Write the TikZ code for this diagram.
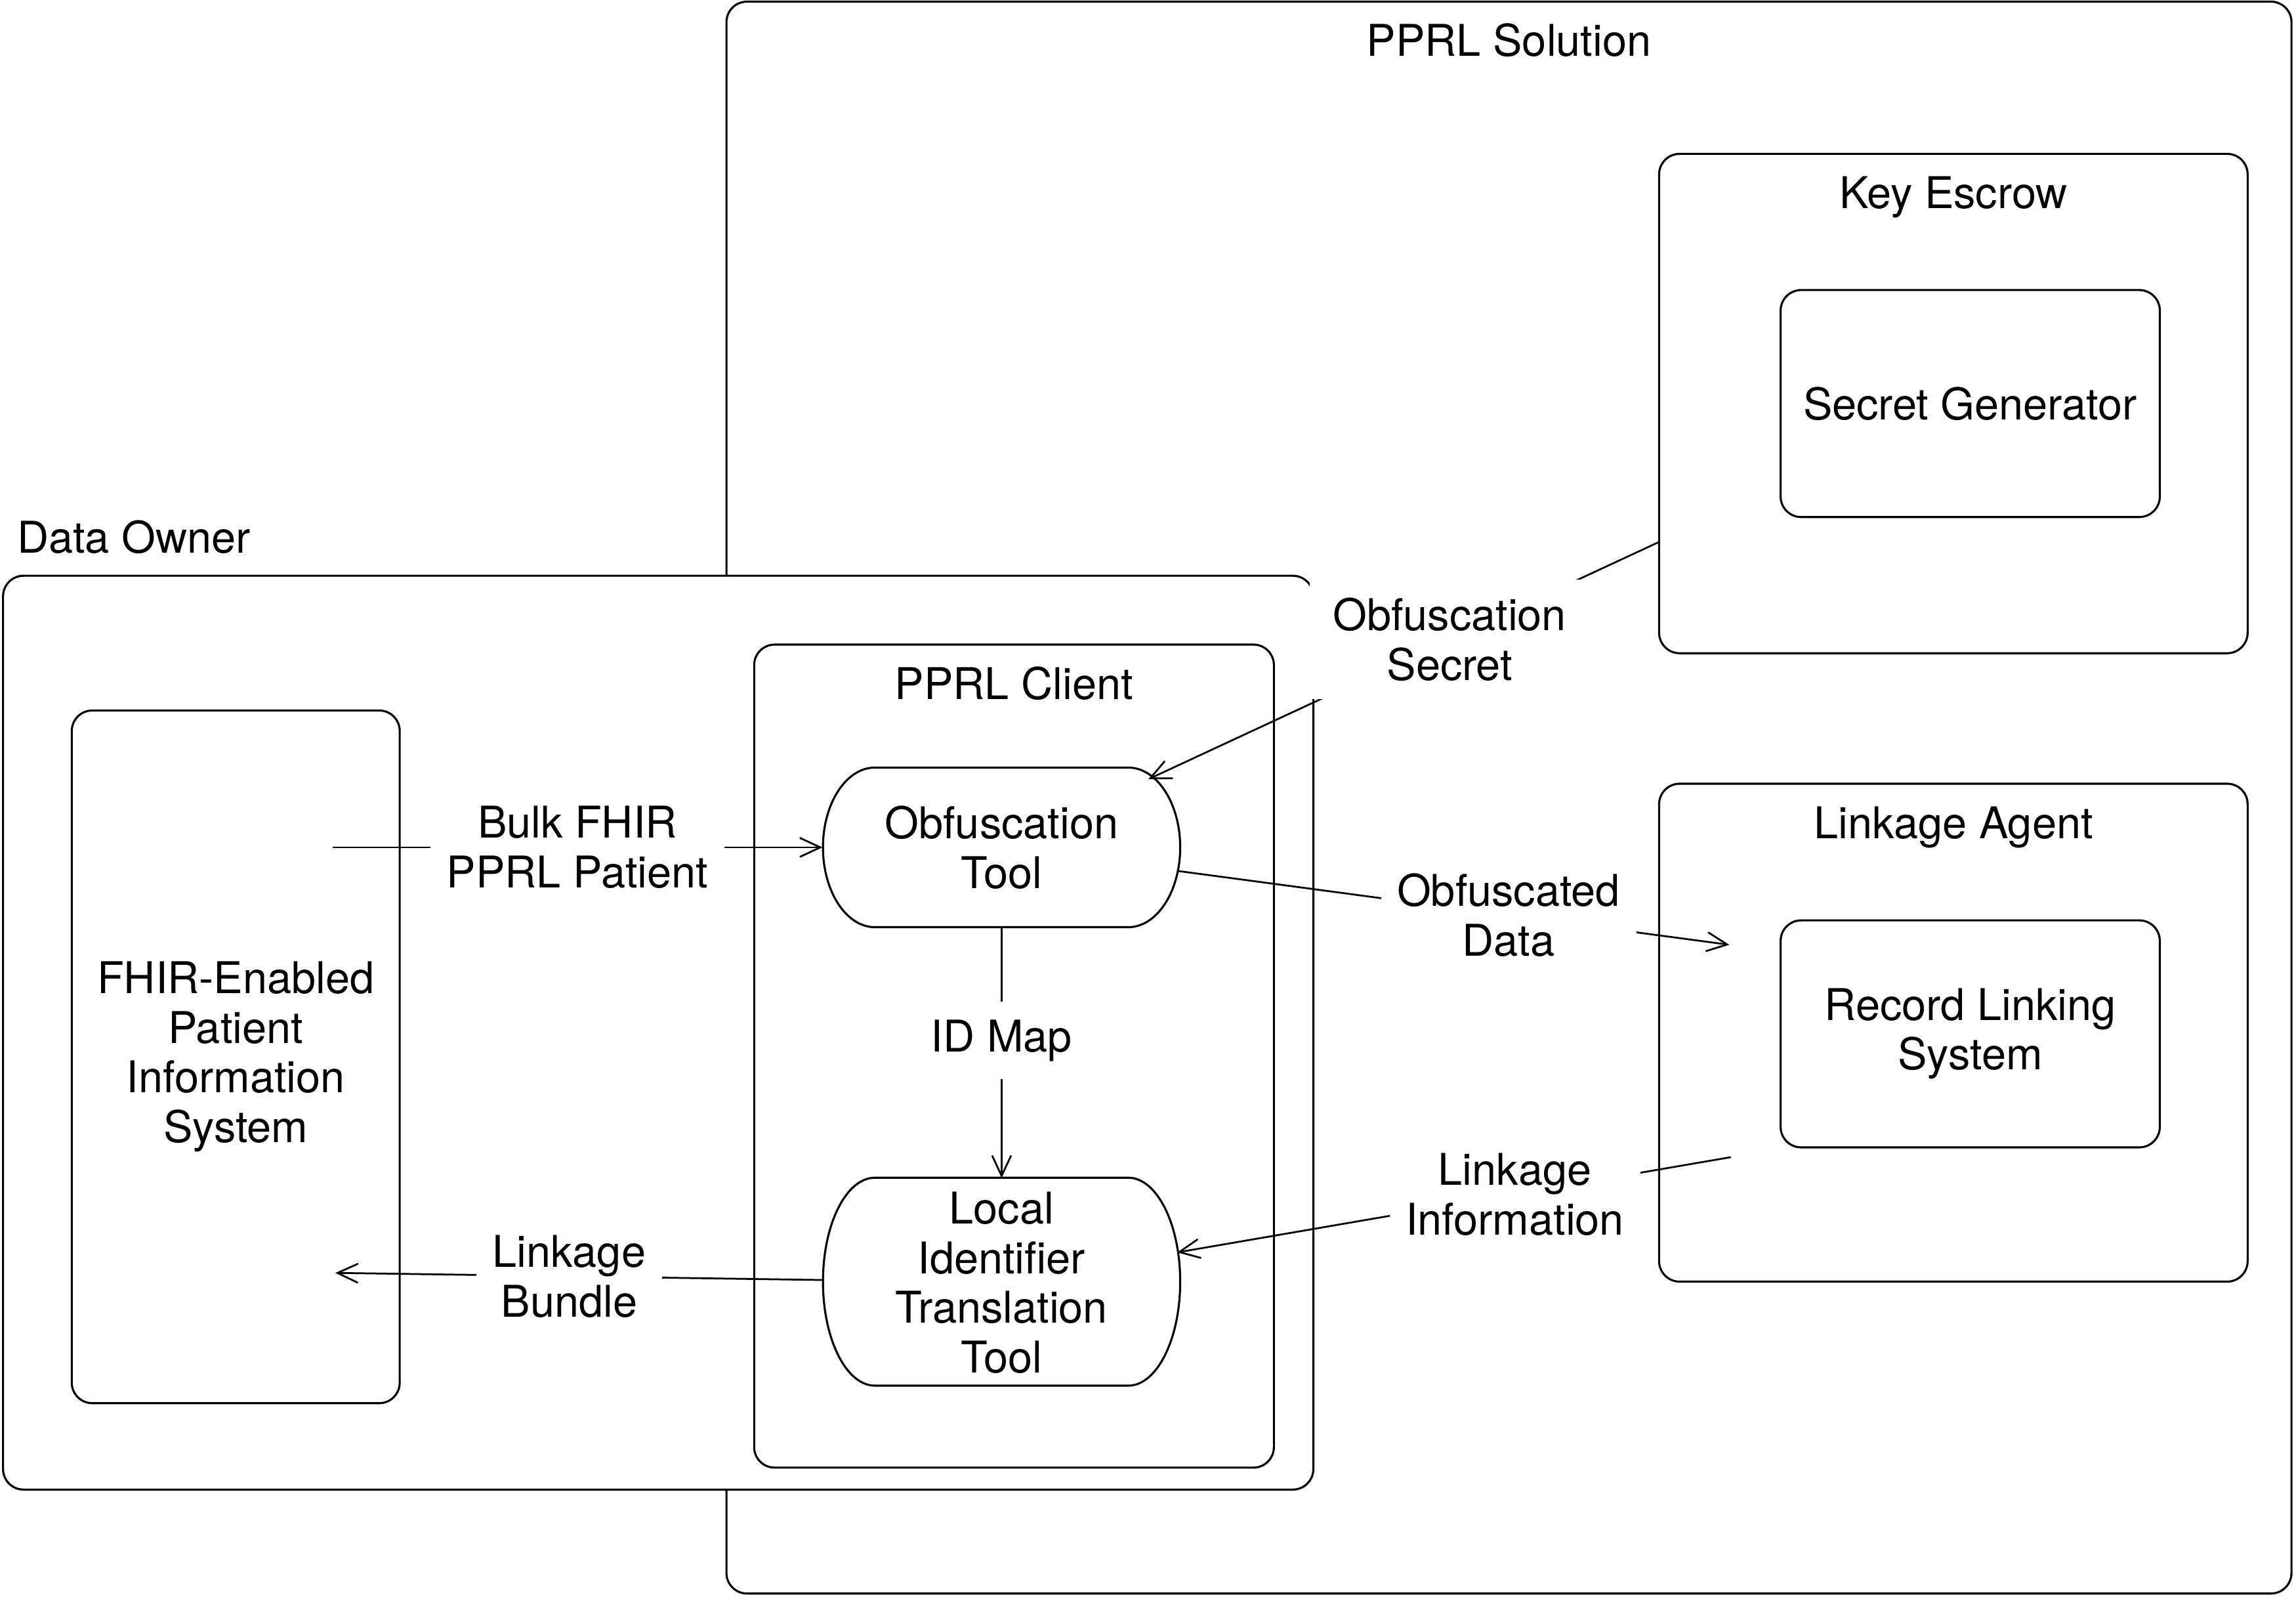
\documentclass[tikz,border=0pt]{standalone}
\usepackage{fontspec}
\setmainfont{TeX Gyre Heros}
\usetikzlibrary{positioning,shapes.misc,arrows.meta}

\begin{document}
\begin{tikzpicture}[x=0.02cm, y=-0.02cm, font=\fontsize{17}{19.3}\selectfont]
\tikzstyle{box} = [rectangle, rounded corners=0.28cm, draw=black, line width=0.8pt, fill=white, inner sep=0pt, align=center]
\tikzstyle{tool} = [rounded rectangle, inner sep=0pt, align=center, minimum width=4.88cm]
\tikzstyle{outline} = [line width=0.8pt, fill=white]
\tikzstyle{title} = [anchor=base, inner sep=0pt]
\tikzstyle{lbl} = [fill=white, align=center, inner xsep=0.22cm, inner ysep=0.25cm]
\tikzstyle{arrow} = [line width=0.7pt, ->, >={Straight Barb[length=0.28cm,width=0.26cm]}]
%
\useasboundingbox (0,0) rectangle (1568,1090);
%
\node (sol)    [box, minimum width=21.38cm, minimum height=21.74cm] at (1030.5,544.5) {};
\node (owner)  [box, minimum width=17.9cm, minimum height=12.48cm]  at (449.5,705)    {};
\node (client) [box, minimum width=7.1cm, minimum height=11.24cm]   at (692.5,721)    {};
\node (fhir)   [box, minimum width=4.48cm, minimum height=9.46cm]   at (161,721.5)    {FHIR-Enabled\\Patient\\Information\\System};
\node (escrow) [box, minimum width=8.04cm, minimum height=6.82cm]   at (1334,275.5)   {};
\node (secgen) [box, minimum width=5.18cm, minimum height=3.1cm]    at (1345.5,275.5) {Secret Generator};
\node (agent)  [box, minimum width=8.04cm, minimum height=6.8cm]    at (1334,705)     {};
\node (rls)    [box, minimum width=5.18cm, minimum height=3.1cm, below=5.48cm of secgen] {Record Linking\\System};
%
% tool outlines: flat top and bottom, half ellipses at the ends
\foreach \t/\r/\c in {obf/1.09cm/578.5, lit/1.42cm/875}
  \draw[outline] ([shift={(-1.73cm,\r)}] 684,\c) -- ++(3.46cm,0)
    arc[start angle=90, end angle=-90, x radius=0.71cm, y radius=\r] -- ++(-3.46cm,0)
    arc[start angle=270, end angle=90, x radius=0.71cm, y radius=\r] -- cycle;
\node (obf)    [tool, minimum height=2.18cm, rounded rectangle arc length=132] at (684,578.5) {Obfuscation\\Tool};
\node (lit)    [tool, minimum height=2.84cm, rounded rectangle arc length=106, below=3.42cm of obf] {Local\\Identifier\\Translation\\Tool};
%
\node (soltitle)    [title, yshift=-0.76cm] at (sol.north)    {PPRL Solution};
\node (ownertitle)  [title, anchor=base west, xshift=0.2cm, yshift=0.3cm] at (owner.north west) {Data Owner};
\node (clienttitle) [title, yshift=-0.76cm] at (client.north) {PPRL Client};
\node (escrowtitle) [title, yshift=-0.76cm] at (escrow.north) {Key Escrow};
\node (agenttitle)  [title, yshift=-0.76cm] at (agent.north)  {Linkage Agent};
%
\coordinate (fhirout)   at (227,578.5);
\coordinate (fhirin)    at (229,869);
\coordinate (secretout) at (1133,370);
\coordinate (datain)    at (1181,645);
\coordinate (infoout)   at (1182,790);
%
\draw [arrow] (fhirout) -- node[lbl, pos=0.5] {Bulk FHIR\\PPRL Patient} (obf.west);
\draw [arrow] (lit) -- node[lbl, pos=0.52] {Linkage\\Bundle} (fhirin);
\draw [arrow] (obf) -- node[lbl, pos=0.45] {ID Map} (lit);
\draw [arrow] (obf) -- node[lbl, pos=0.6] {Obfuscated\\Data} (datain);
\draw [arrow] (infoout) -- node[lbl, pos=0.39] {Linkage\\Information} (lit);
\draw [arrow] (secretout) -- node[lbl, pos=0.41, inner xsep=0.32cm] {Obfuscation\\Secret} (obf);
\end{tikzpicture}
\end{document}
